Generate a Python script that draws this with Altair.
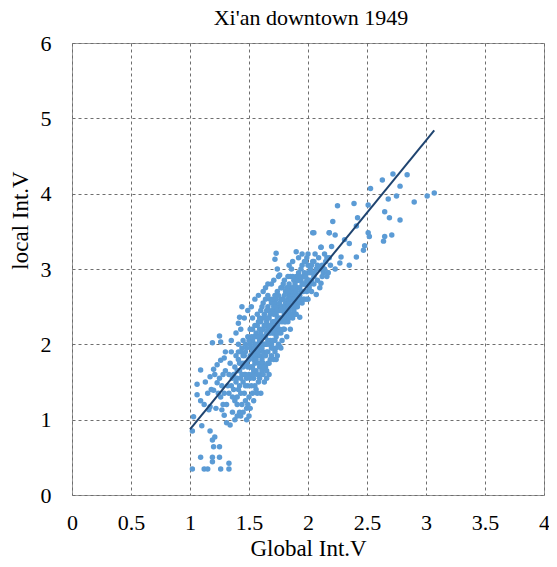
import altair as alt
import pandas as pd

# ---- data ----
low_x = [1.02, 1.12, 1.15, 1.26, 1.33, 1.09, 1.19, 1.25, 1.19, 1.33, 1.20, 1.25, 1.19, 1.21, 1.17, 1.10, 1.02]
low_y = [0.345, 0.345, 0.345, 0.345, 0.345, 0.50, 0.50, 0.50, 0.44, 0.42, 0.64, 0.64, 0.73, 0.77, 0.85, 0.92, 0.85]

left_x = [1.09, 1.06, 1.06, 1.09, 1.03, 1.17, 1.20, 1.23, 1.26, 1.19, 1.25, 1.26, 1.29, 1.15, 1.16, 1.17, 1.20,
          1.23, 1.26, 1.27, 1.29, 1.31, 1.34, 1.41, 1.42, 1.44, 1.48, 1.38, 1.27, 1.28, 1.29, 1.30, 1.28, 1.25,
          1.24, 1.22, 1.21, 1.18, 1.13, 1.12]
left_y = [1.66, 1.47, 1.33, 1.25, 1.04, 1.57, 1.67, 1.73, 1.79, 2.02, 2.11, 2.03, 1.82, 1.35, 1.13, 1.17, 1.39,
          1.49, 1.30, 1.13, 1.06, 0.96, 0.93, 2.28, 2.36, 2.50, 1.00, 1.00, 1.45, 1.60, 1.35, 1.90, 1.20, 1.55,
          1.35, 1.15, 1.60, 1.40, 1.50, 1.20]

high_x = [2.72, 2.84, 2.63, 2.78, 2.53, 2.68, 2.75, 2.90, 3.01, 3.07, 2.39, 2.25, 2.51, 2.65, 2.69, 2.78, 2.42,
          2.21, 2.41, 2.51, 2.52, 2.65, 2.64, 2.71, 2.04, 2.18, 2.23, 2.31, 2.35, 2.48, 2.47, 2.41, 2.28, 2.35,
          2.27, 2.23, 2.17, 2.11]
high_y = [4.26, 4.25, 4.18, 4.10, 4.07, 3.93, 3.97, 3.89, 3.97, 4.01, 3.87, 3.84, 3.85, 3.76, 3.68, 3.65, 3.68,
          3.63, 3.57, 3.48, 3.43, 3.43, 3.37, 3.45, 3.48, 3.48, 3.45, 3.39, 3.34, 3.31, 3.25, 3.16, 3.16, 3.05,
          3.08, 3.00, 2.95, 3.29]

core_x = [1.31, 1.32, 1.33, 1.34, 1.35, 1.33, 1.36, 1.36, 1.30, 1.35, 1.37, 1.38, 1.38, 1.39, 1.39,
          1.40, 1.40, 1.41, 1.41, 1.42, 1.42, 1.43, 1.43, 1.44, 1.44, 1.45, 1.45, 1.46, 1.46, 1.46, 1.47, 1.47,
          1.48, 1.48, 1.49, 1.49, 1.49,
          1.50, 1.50, 1.50, 1.51, 1.51, 1.52, 1.52, 1.52, 1.53, 1.53, 1.53, 1.54, 1.54, 1.54, 1.55, 1.55, 1.55,
          1.56, 1.56, 1.56, 1.57, 1.57, 1.58, 1.58, 1.58, 1.58, 1.59, 1.59,
          1.60, 1.60, 1.60, 1.60, 1.61, 1.61, 1.62, 1.62, 1.62, 1.63, 1.63, 1.63, 1.64, 1.64, 1.64, 1.65, 1.65,
          1.65, 1.66, 1.66, 1.66, 1.67, 1.67, 1.67, 1.68, 1.68, 1.68, 1.69, 1.69, 1.70, 1.70, 1.70,
          1.71, 1.71, 1.72, 1.72, 1.72, 1.73, 1.73, 1.73, 1.74, 1.74, 1.75, 1.75, 1.75, 1.76, 1.76, 1.76, 1.77,
          1.77, 1.78, 1.78, 1.78, 1.79, 1.79, 1.80, 1.80, 1.80,
          1.81, 1.81, 1.82, 1.82, 1.83, 1.83, 1.84, 1.84, 1.85, 1.85, 1.86, 1.86, 1.87, 1.87, 1.88, 1.88, 1.89,
          1.89, 1.90, 1.90, 1.90,
          1.91, 1.91, 1.92, 1.92, 1.93, 1.93, 1.94, 1.95, 1.95, 1.96, 1.96, 1.97, 1.98, 1.98, 1.99, 2.00, 2.00, 2.00,
          2.01, 2.02, 2.03, 2.04, 2.05, 2.05, 2.06, 2.07, 2.07, 2.08, 2.09, 2.10, 2.10,
          2.11, 2.11, 2.12, 2.13, 2.14, 2.15, 2.16, 2.17, 2.18, 2.18, 2.19, 2.20]
core_y = [1.20, 1.45, 1.60, 1.75, 1.90, 1.35, 1.10, 1.55, 1.65, 2.05, 1.40, 1.25, 1.70, 1.85, 2.15,
          1.30, 1.55, 1.80, 2.00, 1.45, 1.65, 1.90, 2.20, 1.20, 1.75, 1.50, 2.05, 1.35, 1.85, 2.35, 1.60, 2.00,
          1.15, 1.75, 1.45, 2.10, 2.45,
          1.05, 1.30, 1.60, 1.85, 2.20, 1.45, 1.95, 2.50, 1.70, 2.05, 2.35, 1.25, 1.55, 1.80, 2.00, 2.25, 2.60,
          1.40, 1.65, 1.90, 2.10, 2.40, 1.50, 1.75, 2.00, 2.65, 1.85, 2.20,
          1.35, 1.60, 1.95, 2.30, 2.10, 2.50, 1.75, 2.00, 2.70, 1.50, 2.25, 2.40, 1.85, 2.10, 2.60, 1.65, 2.00,
          2.30, 1.90, 2.50, 2.80, 1.60, 2.15, 2.35, 1.80, 2.05, 2.60, 2.25, 2.80, 1.95, 2.45, 2.15,
          1.80, 2.30, 2.05, 2.55, 3.13, 1.95, 2.40, 3.21, 2.20, 2.70, 2.00, 2.50, 2.90, 1.97, 2.30, 2.92, 2.60,
          2.15, 2.45, 2.75, 2.05, 2.35, 2.60, 2.20, 2.50, 2.85,
          2.40, 2.70, 2.10, 2.55, 2.30, 2.90, 2.65, 2.45, 2.20, 2.75, 2.50, 3.00, 2.35, 2.65, 2.55, 2.85, 2.40,
          2.70, 3.23, 2.60, 2.90,
          2.50, 2.75, 3.15, 2.95, 2.36, 2.65, 2.85, 2.55, 3.05, 2.70, 2.90, 2.60, 2.80, 3.10, 2.70, 2.95, 2.60, 3.20,
          2.85, 3.00, 2.70, 3.10, 2.90, 3.48, 3.20, 2.66, 3.00, 2.85, 3.15, 3.00, 2.75,
          2.81, 3.29, 3.05, 2.95, 3.20, 3.10, 2.90, 2.95, 3.48, 3.15, 3.05, 3.30]

fill_x = [1.45, 1.47, 1.50, 1.51, 1.53, 1.55, 1.57, 1.57, 1.59, 1.60, 1.61, 1.62, 1.63, 1.64, 1.65, 1.66,
          1.67, 1.68, 1.69, 1.70, 1.71, 1.72, 1.73, 1.74, 1.75, 1.76, 1.77, 1.78, 1.79, 1.80, 1.81, 1.82,
          1.83, 1.84, 1.85, 1.86, 1.87, 1.88, 1.90, 1.91, 1.93, 1.94, 1.96, 1.97, 1.99, 2.02, 2.03, 2.06,
          2.08, 2.12, 2.14, 2.16, 1.48, 1.46, 1.52, 1.54, 1.56, 1.58, 1.60, 1.62, 1.64, 1.66, 1.69, 1.72,
          1.74, 1.35, 1.37, 1.39, 1.41, 1.43, 1.44, 1.42, 1.40, 1.45, 1.36]
fill_y = [1.70, 1.90, 1.80, 2.00, 1.90, 1.75, 1.85, 2.25, 2.05, 2.15, 1.80, 2.20, 2.00, 2.35, 2.15, 2.05,
          2.45, 2.20, 2.00, 2.30, 2.50, 2.20, 2.60, 2.35, 2.15, 2.45, 2.35, 2.60, 2.20, 2.40, 2.55, 2.35,
          2.60, 2.80, 2.40, 2.70, 2.50, 2.70, 2.50, 2.85, 2.75, 2.60, 2.80, 2.95, 2.85, 2.80, 3.05, 2.95,
          3.05, 2.90, 3.00, 3.15, 1.55, 1.60, 1.70, 2.10, 2.15, 2.30, 1.75, 1.60, 1.70, 1.75, 1.85, 1.90,
          1.85, 1.45, 1.60, 1.50, 1.40, 1.55, 1.95, 1.10, 1.05, 1.10, 1.30]

dense_x = [1.40, 1.41, 1.42, 1.43, 1.44, 1.45, 1.46, 1.47, 1.48, 1.49, 1.50, 1.40, 1.43, 1.47, 1.49,
           1.51, 1.51, 1.52, 1.52, 1.53, 1.53, 1.54, 1.54, 1.55, 1.55, 1.56, 1.56, 1.57, 1.57, 1.58, 1.58,
           1.59, 1.59, 1.55, 1.57, 1.59, 1.51, 1.53,
           1.60, 1.60, 1.61, 1.61, 1.62, 1.62, 1.63, 1.63, 1.64, 1.64, 1.65, 1.65, 1.66, 1.66, 1.67, 1.67,
           1.68, 1.68, 1.69, 1.69, 1.70, 1.70, 1.61, 1.63, 1.65, 1.67, 1.62, 1.64, 1.66,
           1.71, 1.71, 1.72, 1.72, 1.73, 1.73, 1.74, 1.74, 1.75, 1.75, 1.76, 1.76, 1.77, 1.77, 1.78, 1.78,
           1.79, 1.79, 1.80, 1.80, 1.71, 1.74, 1.77, 1.73,
           1.81, 1.81, 1.82, 1.82, 1.83, 1.83, 1.84, 1.84, 1.85, 1.85, 1.86, 1.86, 1.87, 1.87, 1.88, 1.88,
           1.89, 1.89, 1.90, 1.90, 1.84, 1.87,
           1.91, 1.92, 1.92, 1.93, 1.94, 1.94, 1.95, 1.96, 1.97, 1.97, 1.98, 1.99, 2.00, 2.00, 2.01, 2.02,
           2.03, 2.04, 2.05, 2.05, 1.95, 1.99]
dense_y = [1.65, 1.90, 1.75, 1.35, 1.60, 1.85, 1.75, 1.45, 1.95, 1.70, 2.05, 1.20, 1.05, 1.25, 1.20,
           1.55, 1.70, 1.85, 2.10, 1.60, 2.20, 1.95, 1.65, 1.85, 2.10, 1.80, 2.00, 1.95, 1.60, 2.10, 1.90,
           1.70, 2.35, 1.45, 1.35, 1.55, 1.15, 1.35,
           2.00, 2.45, 1.95, 2.20, 1.90, 2.35, 2.10, 1.85, 2.00, 2.25, 1.90, 2.45, 2.20, 2.35, 2.00, 2.25,
           2.15, 2.40, 1.95, 2.55, 2.05, 2.60, 1.65, 1.70, 1.55, 1.75, 2.55, 2.75, 2.65,
           2.15, 2.40, 2.30, 2.65, 2.10, 2.50, 2.45, 2.25, 2.35, 2.65, 2.20, 2.55, 2.45, 2.75, 2.30, 2.50,
           2.45, 2.80, 2.30, 2.65, 2.85, 3.00, 1.95, 1.80,
           2.50, 2.30, 2.45, 2.75, 2.50, 2.70, 2.55, 2.35, 2.60, 2.90, 2.60, 2.40, 2.75, 2.90, 2.45, 2.60,
           2.80, 2.55, 2.70, 2.40, 3.05, 3.10,
           2.65, 2.85, 2.55, 2.90, 2.70, 3.00, 2.80, 2.60, 2.80, 3.10, 2.90, 2.60, 2.85, 3.05, 2.75, 2.95,
           2.85, 2.95, 2.80, 3.10, 3.20, 3.15]

fit_x = [1.00, 3.07]
fit_y = [0.87, 4.84]

x_ticks = [0, 0.5, 1, 1.5, 2, 2.5, 3, 3.5, 4]
y_ticks = [0, 1, 2, 3, 4, 5, 6]
chart_title = ["Xi'an downtown 1949"]

points = pd.DataFrame({
    "gx": low_x + left_x + high_x + core_x + fill_x + dense_x,
    "ly": low_y + left_y + high_y + core_y + fill_y + dense_y,
})
fit = pd.DataFrame({"gx": fit_x, "ly": fit_y})
title_df = pd.DataFrame({"t": chart_title})

FONT = "Liberation Serif, Times New Roman, DejaVu Serif, serif"
W, H = 472, 452
xscale = alt.Scale(domain=[0, 4], nice=False, zero=False)
yscale = alt.Scale(domain=[0, 6], nice=False, zero=False)

xaxis = alt.Axis(values=x_ticks, format="~g", title="Global Int.V", grid=True, ticks=False, tickSize=0,
                 domain=False, labelPadding=27, labelBaseline="middle", titleY=53, titleBaseline="middle",
                 labelFlush=False, labelFont=FONT, titleFont=FONT)
yaxis = alt.Axis(values=y_ticks, format="~g", title="local Int.V", grid=True, ticks=False, tickSize=0,
                 domain=False, labelPadding=21, labelBaseline="middle", titleX=-52, titleY=177,
                 titleAngle=270, titleAlign="center", titleBaseline="middle", labelFlush=False,
                 labelFont=FONT, titleFont=FONT)

pts = alt.Chart(points).mark_circle(size=30, opacity=1, color="#5B9BD5").encode(
    x=alt.X("gx:Q", scale=xscale, axis=xaxis),
    y=alt.Y("ly:Q", scale=yscale, axis=yaxis),
)
line = alt.Chart(fit).mark_line(color="#1F4470", strokeWidth=2).encode(
    x=alt.X("gx:Q", scale=xscale),
    y=alt.Y("ly:Q", scale=yscale),
)
title = alt.Chart(title_df).mark_text(font=FONT, fontSize=22, color="#000000", align="center",
                                      baseline="middle").encode(
    text="t:N", x=alt.value(W / 2 + 3), y=alt.value(-25),
)

chart = alt.layer(pts, line, title).properties(
    width=W, height=H,
    autosize=alt.AutoSizeParams(type="none"),
    padding={"left": 64, "top": 35, "right": 5, "bottom": 64},
).configure_view(
    stroke="#999999", strokeWidth=1
).configure_axis(
    labelFontSize=22, titleFontSize=23, titleFontWeight="normal",
    labelColor="#000000", titleColor="#000000",
    gridColor="#6e6e6e", gridDash=[3, 3], gridWidth=1, gridOpacity=1,
)

chart.save("out.html", embed_options={"renderer": "svg", "actions": False})
